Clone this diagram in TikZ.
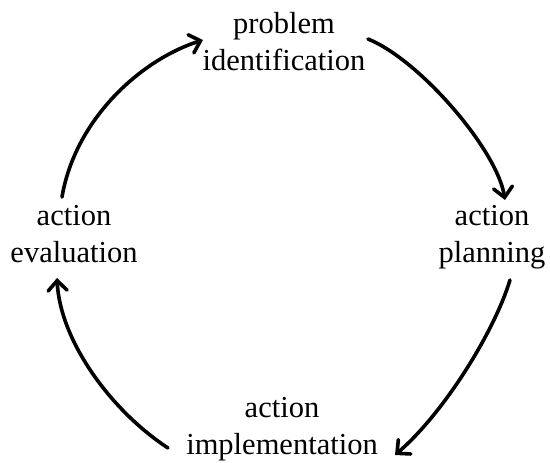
\documentclass[tikz,border=0pt]{standalone}
\usepackage{fontspec}
\setmainfont{Liberation Serif}
\usetikzlibrary{arrows.meta}
\tikzset{
  lbl/.style={align=center, inner sep=0pt, font=\fontsize{30.5}{36.5}\selectfont},
  cyc/.style={line width=3.6pt, line cap=round, -{Straight Barb[length=10pt,width=19pt,line cap=round]}}
}
\begin{document}
\begin{tikzpicture}[x=1pt,y=-1pt]
\useasboundingbox (0,0) rectangle (550,463);
\node[lbl] (pi) at (284,41.5) {problem\\identification};
\node[lbl] (ap) at (492,237) {action\\planning};
\node[lbl] (ai) at (282,429) {action\\implementation};
\node[lbl] (ae) at (74,234) {action\\evaluation};
\coordinate (s1) at (62,197);
\coordinate (e1) at (203,40);
\coordinate (s2) at (368,39);
\coordinate (e2) at (505,200);
\coordinate (s3) at (510,280);
\coordinate (e3) at (395,455);
\coordinate (s4) at (168,448);
\coordinate (e4) at (57,278);
\draw[cyc] (s1) .. controls (75,120) and (140,60) .. (e1);
\draw[cyc] (s2) .. controls (420,60) and (497,150) .. (e2);
\draw[cyc] (s3) .. controls (495,330) and (445,412) .. (e3);
\draw[cyc] (s4) .. controls (110,410) and (60,340) .. (e4);
\end{tikzpicture}
\end{document}
